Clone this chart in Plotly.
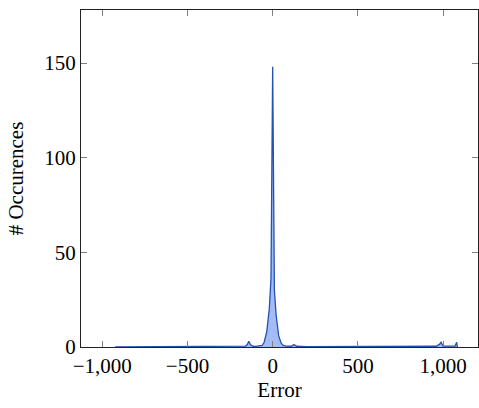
import plotly.graph_objects as go

# Data
error = [-925, -800, -600, -400, -300, -200, -160, -150, -140, -130, -115, -100,
         -80, -62, -50, -35, -20, -10, 0, 10, 20, 35, 50, 62, 80, 110, 125, 140,
         200, 400, 600, 800, 960, 980, 988, 1000, 1040, 1070, 1080, 1084]
occurrences = [0, 0.1, 0.2, 0.2, 0.3, 0.4, 0.5, 1.2, 3.0, 1.2, 0.4, 0.3,
               0.4, 0.8, 2.5, 8, 20, 36, 148, 30, 17, 6, 2.0, 0.8, 0.5, 0.4, 1.3, 0.4,
               0.2, 0.2, 0.2, 0.3, 0.4, 1.5, 2.5, 0.5, 0.3, 0.5, 2.5, 0]

x_tickvals = [-1000, -500, 0, 500, 1000]
x_ticktext = ["\u22121,000", "\u2212500", "0", "500", "1,000"]
y_tickvals = [0, 50, 100, 150]
y_ticktext = ["0", "50", "100", "150"]

font_family = "Liberation Serif"

fig = go.Figure()
fig.add_trace(go.Scatter(
    x=error, y=occurrences, mode="lines",
    line=dict(color="#2452b0", width=1.3),
    fill="tozeroy", fillcolor="rgba(115,152,240,0.65)",
    showlegend=False, hoverinfo="skip",
))

fig.update_layout(
    width=479, height=408,
    margin=dict(l=81, r=1, t=10, b=61, autoexpand=False),
    paper_bgcolor="white", plot_bgcolor="white",
    font=dict(family=font_family, size=21, color="black"),
)
fig.update_xaxes(
    range=[-1125, 1205], automargin=False,
    tickvals=x_tickvals, ticktext=x_ticktext,
    ticks="inside", ticklen=6, tickcolor="#808080", tickwidth=1,
    showline=True, linecolor="#222222", linewidth=1.2, mirror="ticks",
    showgrid=False, zeroline=False,
    title=dict(text="Error", font=dict(size=21), standoff=1),
    tickfont=dict(size=21),
)
fig.update_yaxes(
    range=[0, 178], automargin=False,
    tickvals=y_tickvals, ticktext=y_ticktext,
    ticks="inside", ticklen=6, tickcolor="#808080", tickwidth=1,
    showline=True, linecolor="#222222", linewidth=1.2, mirror="ticks",
    showgrid=False, zeroline=False,
    title=dict(text="# Occurences", font=dict(size=21), standoff=14),
    tickfont=dict(size=21),
)

fig.write_html(
    "out.html",
    config={"displayModeBar": False},
    post_script="document.body.style.margin='0';document.body.style.overflow='hidden';",
)
